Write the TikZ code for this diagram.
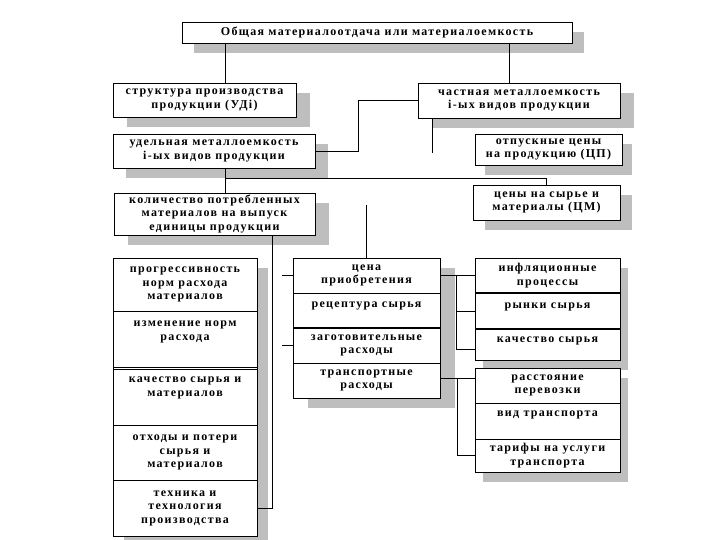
\documentclass[tikz,border=0pt]{standalone}
\usepackage{fontspec}
\setmainfont{Liberation Serif}[LetterSpace=11]
\usetikzlibrary{shadows}
\definecolor{sh}{RGB}{190,190,190}
\newcommand\dfont{\fontsize{12}{13.5}\selectfont\bfseries}
\begin{document}
\begin{tikzpicture}[x=1pt,y=-1pt,line width=0.9pt,
  box/.style={draw, fill=white, inner sep=0pt, outer sep=0pt, align=center, font=\dfont, anchor=north west},
  shd/.style={drop shadow={shadow xshift=#1, shadow yshift=-10pt, fill=sh, opacity=1}},
  txt/.style={inner sep=0pt, align=center, font=\dfont},
  thk/.style={line width=2pt}]
\useasboundingbox[fill=white] (0,0) rectangle (720,540);
% upper levels
\node[box, shd=12pt, minimum width=390pt, minimum height=21pt] (top) at (182,22) {Общая материалоотдача или материалоемкость};
\node[box, shd=14pt, minimum width=183pt, minimum height=34pt] (str) at (113,83) {структура производства\\продукции (УДi)};
\node[box, shd=14pt, minimum width=202pt, minimum height=35pt] (ch) at (418,83) {частная металлоемкость\\i-ых видов продукции};
\node[box, shd=13pt, minimum width=202pt, minimum height=34pt] (ud) at (113,134) {удельная металлоемкость\\i-ых видов продукции};
\node[box, shd=10pt, minimum width=147pt, minimum height=31pt] (otp) at (475,134) {отпускные цены\\на продукцию (ЦП)};
\node[box, shd=14pt, minimum width=201pt, minimum height=42pt] (kol) at (114,193) {количество потребленных\\материалов на выпуск\\единицы продукции};
\node[box, shd=12pt, minimum width=147pt, minimum height=35pt] (cm) at (473,185) {цены на сырье и\\материалы (ЦМ)};
% column 1
\node[box, shd=11pt, minimum width=144pt, minimum height=53pt] (c11) at (113,258) {прогрессивность\\норм расхода\\материалов};
\node[box, shd=11pt, minimum width=144pt, minimum height=56pt] (c12) at (113,311) {};
\node[txt] (c12t) at ([yshift=7pt]c12.center) {изменение норм\\расхода};
\node[box, shd=11pt, minimum width=144pt, minimum height=58pt] (c13) at (113,367) {};
\node[txt] (c13t) at ([yshift=8pt]c13.center) {качество сырья и\\материалов};
\node[box, shd=11pt, minimum width=144pt, minimum height=55pt] (c14) at (113,425) {отходы и потери\\сырья и\\материалов};
\node[box, shd=11pt, minimum width=144pt, minimum height=56pt] (c15) at (113,480) {техника и\\технология\\производства};
\draw ([yshift=-2.5pt]c13.north west) -- ([yshift=-2.5pt]c13.north east);
% column 2
\node[box, shd=15pt, minimum width=147pt, minimum height=35pt] (c21) at (293,258) {цена\\приобретения};
\node[box, shd=15pt, minimum width=147pt, minimum height=35pt] (c22) at (293,293) {};
\node[txt] (c22t) at ([yshift=5pt]c22.center) {рецептура сырья};
\node[box, shd=15pt, minimum width=147pt, minimum height=35pt] (c23) at (293,328) {заготовительные\\расходы};
\node[box, shd=15pt, minimum width=147pt, minimum height=35pt] (c24) at (293,363) {транспортные\\расходы};
\draw[thk] (c23.north west) -- (c23.north east);
% column 3
\node[box, shd=8pt, minimum width=145pt, minimum height=35pt] (c31) at (475,258) {инфляционные\\процессы};
\node[box, shd=8pt, minimum width=145pt, minimum height=36pt] (c32) at (475,293) {};
\node[txt] (c32t) at ([yshift=4pt]c32.center) {рынки сырья};
\node[box, shd=8pt, minimum width=145pt, minimum height=31pt] (c33) at (475,329) {};
\node[txt] (c33t) at ([yshift=4pt]c33.center) {качество сырья};
\node[box, shd=8pt, minimum width=145pt, minimum height=35pt] (c34) at (475,368) {расстояние\\перевозки};
\node[box, shd=8pt, minimum width=145pt, minimum height=36pt] (c35) at (475,403) {};
\node[txt] (c35t) at ([yshift=6pt]c35.center) {вид транспорта};
\node[box, shd=8pt, minimum width=145pt, minimum height=33pt] (c36) at (475,439) {тарифы на услуги\\транспорта};
\draw[thk] (c32.north west) -- (c32.north east);
\draw[thk] (c33.north west) -- (c33.north east);
% connectors
\coordinate (xA) at (225,0);
\coordinate (xB) at (509,0);
\coordinate (xS) at (272,0);
\coordinate (bA) at (456,0);
\coordinate (bB) at (457,378);
\coordinate (hJ) at (225,178);
\coordinate (chE) at (432,153);
\draw (xA |- top.south) -- (xA |- str.north);
\draw (xB |- top.south) -- (xB |- ch.north);
\draw (ud.east) -- ++(43,0) |- (ch.west);
\draw (chE |- ch.south) -- (chE);
\draw (xA |- ud.south) -- (xA |- kol.north);
\draw (hJ) -| (cm.north);
\draw (c21.north) -- ++(0,-53);
\draw (xS |- kol.south) |- (c15.east);
\draw (c21.west) -- ++(-11,0);
\draw (c23.west) -- ++(-11,0);
\draw (c21.east) -- (c31.west);
\draw (bA |- c31.west) |- ([yshift=-5pt]c33.west);
\draw (bA |- c32.west) -- (c32.west);
\draw (bB -| c24.east) -- (bB -| c34.west);
\draw (bB) |- (c36.west);
\end{tikzpicture}
\end{document}
